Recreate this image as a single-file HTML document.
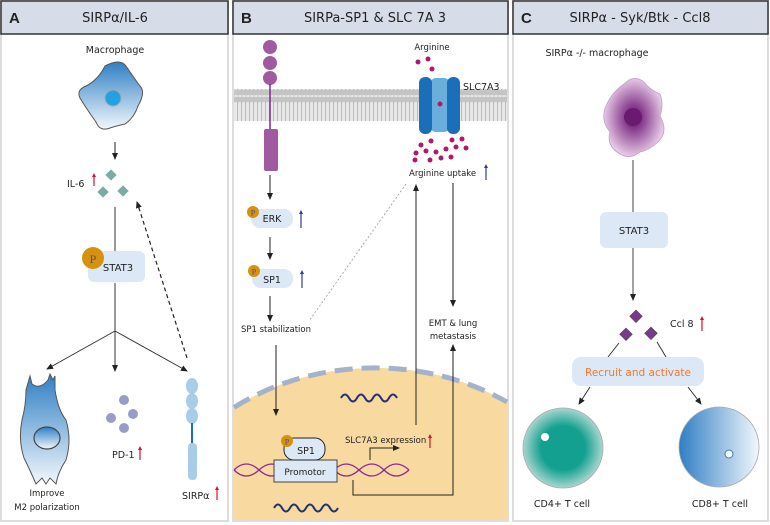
<!DOCTYPE html>
<html><head><style>
html,body{margin:0;padding:0;background:#fff;width:770px;height:525px;overflow:hidden;}
svg{display:block;}
svg text{font-family:"DejaVu Sans","Liberation Sans",sans-serif;fill:#222;}
</style></head><body>
<svg width="770" height="525" viewBox="0 0 770 525" xmlns="http://www.w3.org/2000/svg">
<defs>
<marker id="ah" markerWidth="8" markerHeight="8" refX="6" refY="4" orient="auto" markerUnits="userSpaceOnUse"><path d="M0,1 L7,4 L0,7 Z" fill="#222"/></marker>
<linearGradient id="gm" x1="0" y1="0" x2="0" y2="1"><stop offset="0" stop-color="#2f7fc4"/><stop offset="1" stop-color="#f2f7fc"/></linearGradient>
<radialGradient id="gp" cx="0.5" cy="0.5" r="0.5"><stop offset="0.2" stop-color="#7a2a80"/><stop offset="1" stop-color="#e6c8e6"/></radialGradient>
<radialGradient id="gt" cx="0.5" cy="0.5" r="0.5"><stop offset="0.55" stop-color="#13a090"/><stop offset="1" stop-color="#a8d6cf"/></radialGradient>
<linearGradient id="gb" x1="0" y1="0" x2="1" y2="0"><stop offset="0" stop-color="#2f7fc4"/><stop offset="1" stop-color="#f2f7fc"/></linearGradient>
<pattern id="mem" width="4" height="32" patternUnits="userSpaceOnUse"><rect width="4" height="32" fill="#e8e8e8"/><circle cx="2" cy="3.5" r="3" fill="#c4c4c4"/><circle cx="2" cy="28.5" r="3" fill="#c4c4c4"/><line x1="1.5" y1="6" x2="1.5" y2="26" stroke="#aaa" stroke-width="0.7"/></pattern>
</defs>
<rect x="1" y="1" width="227" height="520" fill="none" stroke="#ddd" stroke-width="2"/>
<rect x="233" y="1" width="275" height="520" fill="none" stroke="#ddd" stroke-width="2"/>
<rect x="513" y="1" width="255" height="520" fill="none" stroke="#ddd" stroke-width="2"/>
<rect x="1" y="1" width="227" height="33" fill="#d6dde8" stroke="#333" stroke-width="1.5"/>
<rect x="233" y="1" width="275" height="33" fill="#d6dde8" stroke="#333" stroke-width="1.5"/>
<rect x="513" y="1" width="255" height="33" fill="#d6dde8" stroke="#333" stroke-width="1.5"/>
<text x="9" y="23" font-size="15" font-weight="bold" style="font-family:'Liberation Sans',sans-serif">A</text>
<text x="115" y="22" font-size="13" text-anchor="middle">SIRPα/IL-6</text>
<text x="241" y="23" font-size="15" font-weight="bold" style="font-family:'Liberation Sans',sans-serif">B</text>
<text x="375" y="22" font-size="13" text-anchor="middle">SIRPa-SP1 &amp; SLC 7A 3</text>
<text x="521" y="23" font-size="15" font-weight="bold" style="font-family:'Liberation Sans',sans-serif">C</text>
<text x="640" y="22" font-size="13" text-anchor="middle">SIRPα - Syk/Btk - Ccl8</text>

<!-- Panel A -->
<text x="115" y="53" font-size="9.5" text-anchor="middle">Macrophage</text>
<path d="M105,66 Q120,58 126,66 Q134,78 140,86 Q146,92 138,106 Q134,118 125,124 Q116,126 110,128 Q100,132 96,122 Q86,108 80,98 Q76,90 86,86 Q98,80 105,66 Z" fill="url(#gm)" stroke="#555" stroke-width="1"/>
<circle cx="113" cy="98" r="8" fill="#25a0e0" stroke="#9ab" stroke-width="1"/>
<line x1="115" y1="142" x2="115" y2="159" stroke="#222" marker-end="url(#ah)"/>
<text x="67" y="187" font-size="9.5">IL-6</text>
<line x1="94" y1="186" x2="94" y2="175" stroke="#d01530" stroke-width="1.2"/><path d="M92,177 L94,173 L96,177Z" fill="#d01530"/>
<rect x="107" y="171" width="8" height="8" fill="#7aaca4" transform="rotate(45 111 175)"/>
<rect x="99" y="188" width="8" height="8" fill="#7aaca4" transform="rotate(45 103 192)"/>
<rect x="119" y="187" width="8" height="8" fill="#7aaca4" transform="rotate(45 123 191)"/>
<line x1="115" y1="207" x2="115" y2="252" stroke="#333"/>
<rect x="88" y="251" width="57" height="31" rx="6" fill="#dce8f5"/>
<circle cx="93" cy="258" r="11" fill="#d4920f"/>
<text x="93" y="263" font-size="12" text-anchor="middle" style="font-family:'Liberation Serif',serif;fill:#5a4a80">P</text>
<text x="118" y="271" font-size="10" text-anchor="middle">STAT3</text>
<line x1="115" y1="283" x2="115" y2="331" stroke="#333"/>
<line x1="115" y1="331" x2="47" y2="369" stroke="#333" marker-end="url(#ah)"/>
<line x1="115" y1="331" x2="115" y2="371" stroke="#333" marker-end="url(#ah)"/>
<line x1="115" y1="331" x2="187" y2="371" stroke="#333" marker-end="url(#ah)"/>
<line x1="187" y1="358" x2="137" y2="202" stroke="#222" stroke-dasharray="4,3" stroke-width="1.2" marker-end="url(#ah)"/>
<path d="M30,376 L32,384 Q40,390 48,380 L50,374 L53,380 L55,376 L55,390 Q58,410 66,420 Q72,440 66,460 Q58,472 56,484 L50,478 L46,484 L42,478 L36,484 Q30,470 24,458 Q18,440 22,420 Q26,405 26,390 Z" fill="url(#gm)" stroke="#555" stroke-width="1"/>
<ellipse cx="47" cy="438" rx="13" ry="11" fill="url(#gm)" stroke="#444" stroke-width="1.2"/>
<text x="47" y="496" font-size="8.5" text-anchor="middle">Improve</text>
<text x="47" y="510" font-size="8.5" text-anchor="middle">M2 polarization</text>
<circle cx="124" cy="400" r="5" fill="#9a9cc8"/><circle cx="111" cy="418" r="5" fill="#9a9cc8"/><circle cx="133" cy="414" r="5" fill="#9a9cc8"/><circle cx="124" cy="428" r="5" fill="#9a9cc8"/>
<text x="112" y="458" font-size="9.5">PD-1</text>
<line x1="140" y1="460" x2="140" y2="448" stroke="#d01530" stroke-width="1.2"/><path d="M138,450 L140,446 L142,450Z" fill="#d01530"/>
<ellipse cx="192" cy="386" rx="6" ry="8" fill="#a9cce8"/><ellipse cx="192" cy="401" rx="6" ry="8" fill="#a9cce8"/><ellipse cx="192" cy="416" rx="6" ry="8" fill="#a9cce8"/>
<line x1="192" y1="423" x2="192" y2="444" stroke="#1a6fb8" stroke-width="2"/>
<rect x="188" y="443" width="9" height="37" rx="4" fill="#a9cce8"/>
<text x="182" y="499" font-size="9.5">SIRPα</text>
<line x1="217" y1="500" x2="217" y2="488" stroke="#d01530" stroke-width="1.2"/><path d="M215,490 L217,486 L219,490Z" fill="#d01530"/>

<!-- Panel B -->
<rect x="234" y="89" width="273" height="32" fill="url(#mem)"/>
<path d="M234,407.5 A232,192 0 0 1 507,402 L507,520 L234,520 Z" fill="#f8d9a0"/>
<path d="M234,407.5 A232,192 0 0 1 507,402" fill="none" stroke="#a4b2ca" stroke-width="5" stroke-dasharray="18,9"/>
<circle cx="270" cy="47" r="7" fill="#a05aa0"/><circle cx="270" cy="63" r="7" fill="#a05aa0"/><circle cx="270" cy="78" r="7" fill="#a05aa0"/>
<line x1="270" y1="84" x2="270" y2="131" stroke="#7a2a90" stroke-width="1.5"/>
<rect x="264" y="129" width="14" height="42" rx="2" fill="#a05aa0"/>
<line x1="270" y1="175" x2="270" y2="199" stroke="#222" marker-end="url(#ah)"/>
<rect x="251" y="209" width="42" height="19" rx="9" fill="#dce8f5"/>
<circle cx="253" cy="212" r="6" fill="#d4920f"/><text x="253" y="215.5" font-size="8" text-anchor="middle" style="font-family:'Liberation Serif',serif;fill:#5a4a80">P</text>
<text x="272" y="222" font-size="9.5" text-anchor="middle">ERK</text>
<line x1="301" y1="228" x2="301" y2="212" stroke="#2a40a0" stroke-width="1.2"/><path d="M299,214 L301,210 L303,214Z" fill="#2a40a0"/>
<line x1="270" y1="237" x2="270" y2="259" stroke="#222" marker-end="url(#ah)"/>
<rect x="252" y="269" width="41" height="19" rx="9" fill="#dce8f5"/>
<circle cx="254" cy="271" r="6" fill="#d4920f"/><text x="254" y="274.5" font-size="8" text-anchor="middle" style="font-family:'Liberation Serif',serif;fill:#5a4a80">P</text>
<text x="272" y="283" font-size="9.5" text-anchor="middle">SP1</text>
<line x1="302" y1="288" x2="302" y2="272" stroke="#2a40a0" stroke-width="1.2"/><path d="M300,274 L302,270 L304,274Z" fill="#2a40a0"/>
<line x1="270" y1="296" x2="270" y2="321" stroke="#222" marker-end="url(#ah)"/>
<text x="276" y="332" font-size="8.5" text-anchor="middle">SP1 stabilization</text>
<line x1="406" y1="184" x2="309" y2="321" stroke="#999" stroke-width="0.8" stroke-dasharray="2,2"/>
<text x="432" y="50" font-size="8.5" text-anchor="middle">Arginine</text>
<g fill="#b0186a"><circle cx="418" cy="62" r="2.5"/><circle cx="428" cy="59" r="2.5"/><circle cx="432" cy="69" r="2.5"/>
<circle cx="421" cy="145" r="2.5"/><circle cx="431" cy="141" r="2.5"/><circle cx="452" cy="140" r="2.5"/><circle cx="462" cy="139" r="2.5"/><circle cx="416" cy="153" r="2.5"/><circle cx="426" cy="151" r="2.5"/><circle cx="436" cy="152" r="2.5"/><circle cx="446" cy="149" r="2.5"/><circle cx="456" cy="147" r="2.5"/><circle cx="466" cy="148" r="2.5"/><circle cx="415" cy="160" r="2.5"/><circle cx="430" cy="160" r="2.5"/><circle cx="441" cy="158" r="2.5"/><circle cx="451" cy="157" r="2.5"/></g>
<rect x="430" y="78" width="20" height="54" rx="6" fill="#6aaedc"/>
<rect x="419" y="77" width="13" height="57" rx="6" fill="#1a6fb8"/>
<rect x="447" y="77" width="13" height="57" rx="6" fill="#1a6fb8"/>
<circle cx="440" cy="104" r="2.5" fill="#b0186a"/>
<text x="463" y="90" font-size="9.5">SLC7A3</text>
<text x="409" y="176" font-size="8.5">Arginine uptake</text>
<line x1="486" y1="180" x2="486" y2="166" stroke="#2a40a0" stroke-width="1.2"/><path d="M484,168 L486,164 L488,168Z" fill="#2a40a0"/>
<line x1="416" y1="425" x2="416" y2="185" stroke="#222" marker-end="url(#ah)"/>
<line x1="453" y1="183" x2="453" y2="306" stroke="#222" marker-end="url(#ah)"/>
<text x="453" y="326" font-size="8.5" text-anchor="middle">EMT &amp; lung</text>
<text x="453" y="339" font-size="8.5" text-anchor="middle">metastasis</text>
<polyline points="353,480 353,495 453,495 453,345" fill="none" stroke="#222" marker-end="url(#ah)"/>
<line x1="276" y1="345" x2="276" y2="415" stroke="#222" marker-end="url(#ah)"/>
<path d="M341,398 q4,-7 8,0 t8,0 t8,0 t8,0 t8,0 t8,0 t8,0" fill="none" stroke="#223070" stroke-width="2"/>
<path d="M274,508 q4,-7 8,0 t8,0 t8,0 t8,0 t8,0 t8,0 t8,0 t8,0" fill="none" stroke="#223070" stroke-width="2"/>
<path d="M234,470 q12,-12 25,0 t25,0 t25,0 t25,0 t25,0 t25,0 t25,0" fill="none" stroke="#8a2a9a" stroke-width="1.3"/>
<path d="M234,470 q12,12 25,0 t25,0 t25,0 t25,0 t25,0 t25,0 t25,0" fill="none" stroke="#8a2a9a" stroke-width="1.3"/>
<rect x="274" y="460" width="63" height="22" fill="#dce8f5" stroke="#444"/>
<text x="305" y="475" font-size="9" text-anchor="middle">Promotor</text>
<rect x="284" y="438" width="41" height="22" rx="10" fill="#dce8f5" stroke="#222"/>
<circle cx="287" cy="441" r="6" fill="#d4920f"/><text x="287" y="444.5" font-size="8" text-anchor="middle" style="font-family:'Liberation Serif',serif;fill:#5a4a80">P</text>
<text x="306" y="454" font-size="9.5" text-anchor="middle">SP1</text>
<polyline points="370,460 370,448 399,448" fill="none" stroke="#222" marker-end="url(#ah)"/>
<text x="345" y="443" font-size="8.5">SLC7A3 expression</text>
<line x1="430" y1="448" x2="430" y2="436" stroke="#d01530" stroke-width="1.2"/><path d="M428,438 L430,434 L432,438Z" fill="#d01530"/>

<!-- Panel C -->
<text x="597" y="56" font-size="9.5" text-anchor="middle">SIRPα -/- macrophage</text>
<path d="M624,84 Q634,74 644,82 Q650,90 660,94 Q664,104 660,116 Q668,130 660,140 Q650,150 640,152 Q630,160 620,154 Q606,146 610,132 Q600,120 606,106 Q612,92 624,84 Z" fill="url(#gp)" stroke="#c0a0c8" stroke-width="0.8"/>
<circle cx="633" cy="117" r="9" fill="#6a1a70"/>
<line x1="633" y1="160" x2="633" y2="212" stroke="#444"/>
<rect x="600" y="212" width="68" height="36" rx="6" fill="#dce8f5"/>
<text x="634" y="234" font-size="10" text-anchor="middle">STAT3</text>
<line x1="633" y1="248" x2="633" y2="300" stroke="#444" marker-end="url(#ah)"/>
<rect x="631" y="312" width="9" height="9" fill="#7a3a8a" stroke="#444" stroke-width="0.5" transform="rotate(45 636 317)"/>
<rect x="621" y="330" width="9" height="9" fill="#7a3a8a" stroke="#444" stroke-width="0.5" transform="rotate(45 626 335)"/>
<rect x="646" y="329" width="9" height="9" fill="#7a3a8a" stroke="#444" stroke-width="0.5" transform="rotate(45 651 334)"/>
<text x="670" y="327" font-size="9.5">Ccl 8</text>
<line x1="702" y1="331" x2="702" y2="318" stroke="#d01530" stroke-width="1.2"/><path d="M700,320 L702,316 L704,320Z" fill="#d01530"/>
<line x1="619" y1="343" x2="608" y2="357" stroke="#333"/>
<line x1="657" y1="342" x2="666" y2="357" stroke="#333"/>
<rect x="572" y="357" width="132" height="29" rx="9" fill="#dce8f5"/>
<text x="638" y="376" font-size="10.5" text-anchor="middle" style="fill:#f07a30">Recruit and activate</text>
<line x1="590" y1="387" x2="579" y2="404" stroke="#333" marker-end="url(#ah)"/>
<line x1="688" y1="387" x2="701" y2="404" stroke="#333" marker-end="url(#ah)"/>
<circle cx="563" cy="448" r="40" fill="url(#gt)" stroke="#aaa" stroke-width="0.8"/>
<circle cx="545" cy="437" r="4" fill="#fff"/>
<circle cx="719" cy="447" r="40" fill="url(#gb)" stroke="#aaa" stroke-width="0.8"/>
<circle cx="729" cy="454" r="4" fill="#fff" stroke="#2f7fc4"/>
<text x="562" y="507" font-size="9.5" text-anchor="middle">CD4+ T cell</text>
<text x="720" y="507" font-size="9.5" text-anchor="middle">CD8+ T cell</text>
</svg>
</body></html>
